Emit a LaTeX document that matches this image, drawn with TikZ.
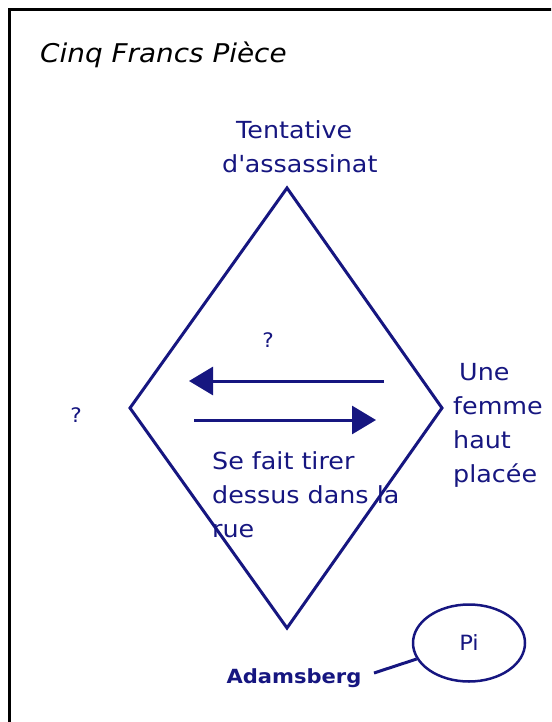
\documentclass[tikz,border=0pt]{standalone}
\usepackage{fontspec}
\setmainfont{DejaVu Sans}[FakeStretch=1.08]
\usetikzlibrary{arrows.meta,shapes.geometric}

\definecolor{navy}{RGB}{22,22,128}
\tikzset{
  lbl/.style={text=navy, inner sep=0pt, align=left, font=\fontsize{23.5}{34}\selectfont},
  edge/.style={draw=navy, line width=3pt},
  dart/.style={edge, -{Triangle[length=24pt,width=28pt]}}
}

\begin{document}
\begin{tikzpicture}[x=1pt,y=-1pt]
      \useasboundingbox (0,0) rectangle (551,722);
      \clip (0,0) rectangle (551,722);
      % Frame and title
      \draw[line width=3pt] (600,9.5) -- (9.5,9.5) -- (9.5,760);
      \node[anchor=base west, inner sep=0pt, font=\fontsize{25.8}{28}\selectfont\itshape] (title) at (40,63) {Cinq Francs Pièce};
      % Define corners of the diamond
      \coordinate (top) at (287,188);
      \coordinate (left) at (130,408);
      \coordinate (right) at (442,408);
      \coordinate (bottom) at (287,628);
      \draw[edge, line join=miter] (top) -- (right) -- (bottom) -- (left) -- cycle;
      % Define nodes (base is the last line)
      \node[lbl, anchor=base west] (tent) at (222,172) {\hspace*{14pt}Tentative\\d\textquotesingle assassinat};
      \node[lbl, anchor=base west] (femme) at (453,482) {\hspace*{6pt}Une\\femme\\haut\\placée};
      \node[lbl, anchor=base west] (rue) at (212,537) {Se fait tirer\\dessus dans la\\rue};
      \node[lbl, anchor=base, font=\fontsize{20}{24}\selectfont] (q1) at (268,347) {?};
      \node[lbl, anchor=base, font=\fontsize{20}{24}\selectfont] (q2) at (76,422) {?};
      \node[lbl, anchor=base, font=\fontsize{19.5}{24}\selectfont\bfseries] (adam) at (294,683) {Adamsberg};
      \node[lbl, ellipse, draw=navy, line width=2.5pt, minimum width=112pt, minimum height=77pt, font=\fontsize{21}{24}\selectfont] (pi) at (469,643) {Pi};
      % Arrows between the two sides
      \coordinate (a1) at (384,381);
      \coordinate (b1) at (189,381);
      \coordinate (a2) at (194,420);
      \coordinate (b2) at (376,420);
      \draw[dart] (a1) -- (b1);
      \draw[dart] (a2) -- (b2);
      % Connect nodes
      \coordinate (adamend) at (374,673);
      \draw[edge] (adamend) -- (pi.197);
\end{tikzpicture}
\end{document}
